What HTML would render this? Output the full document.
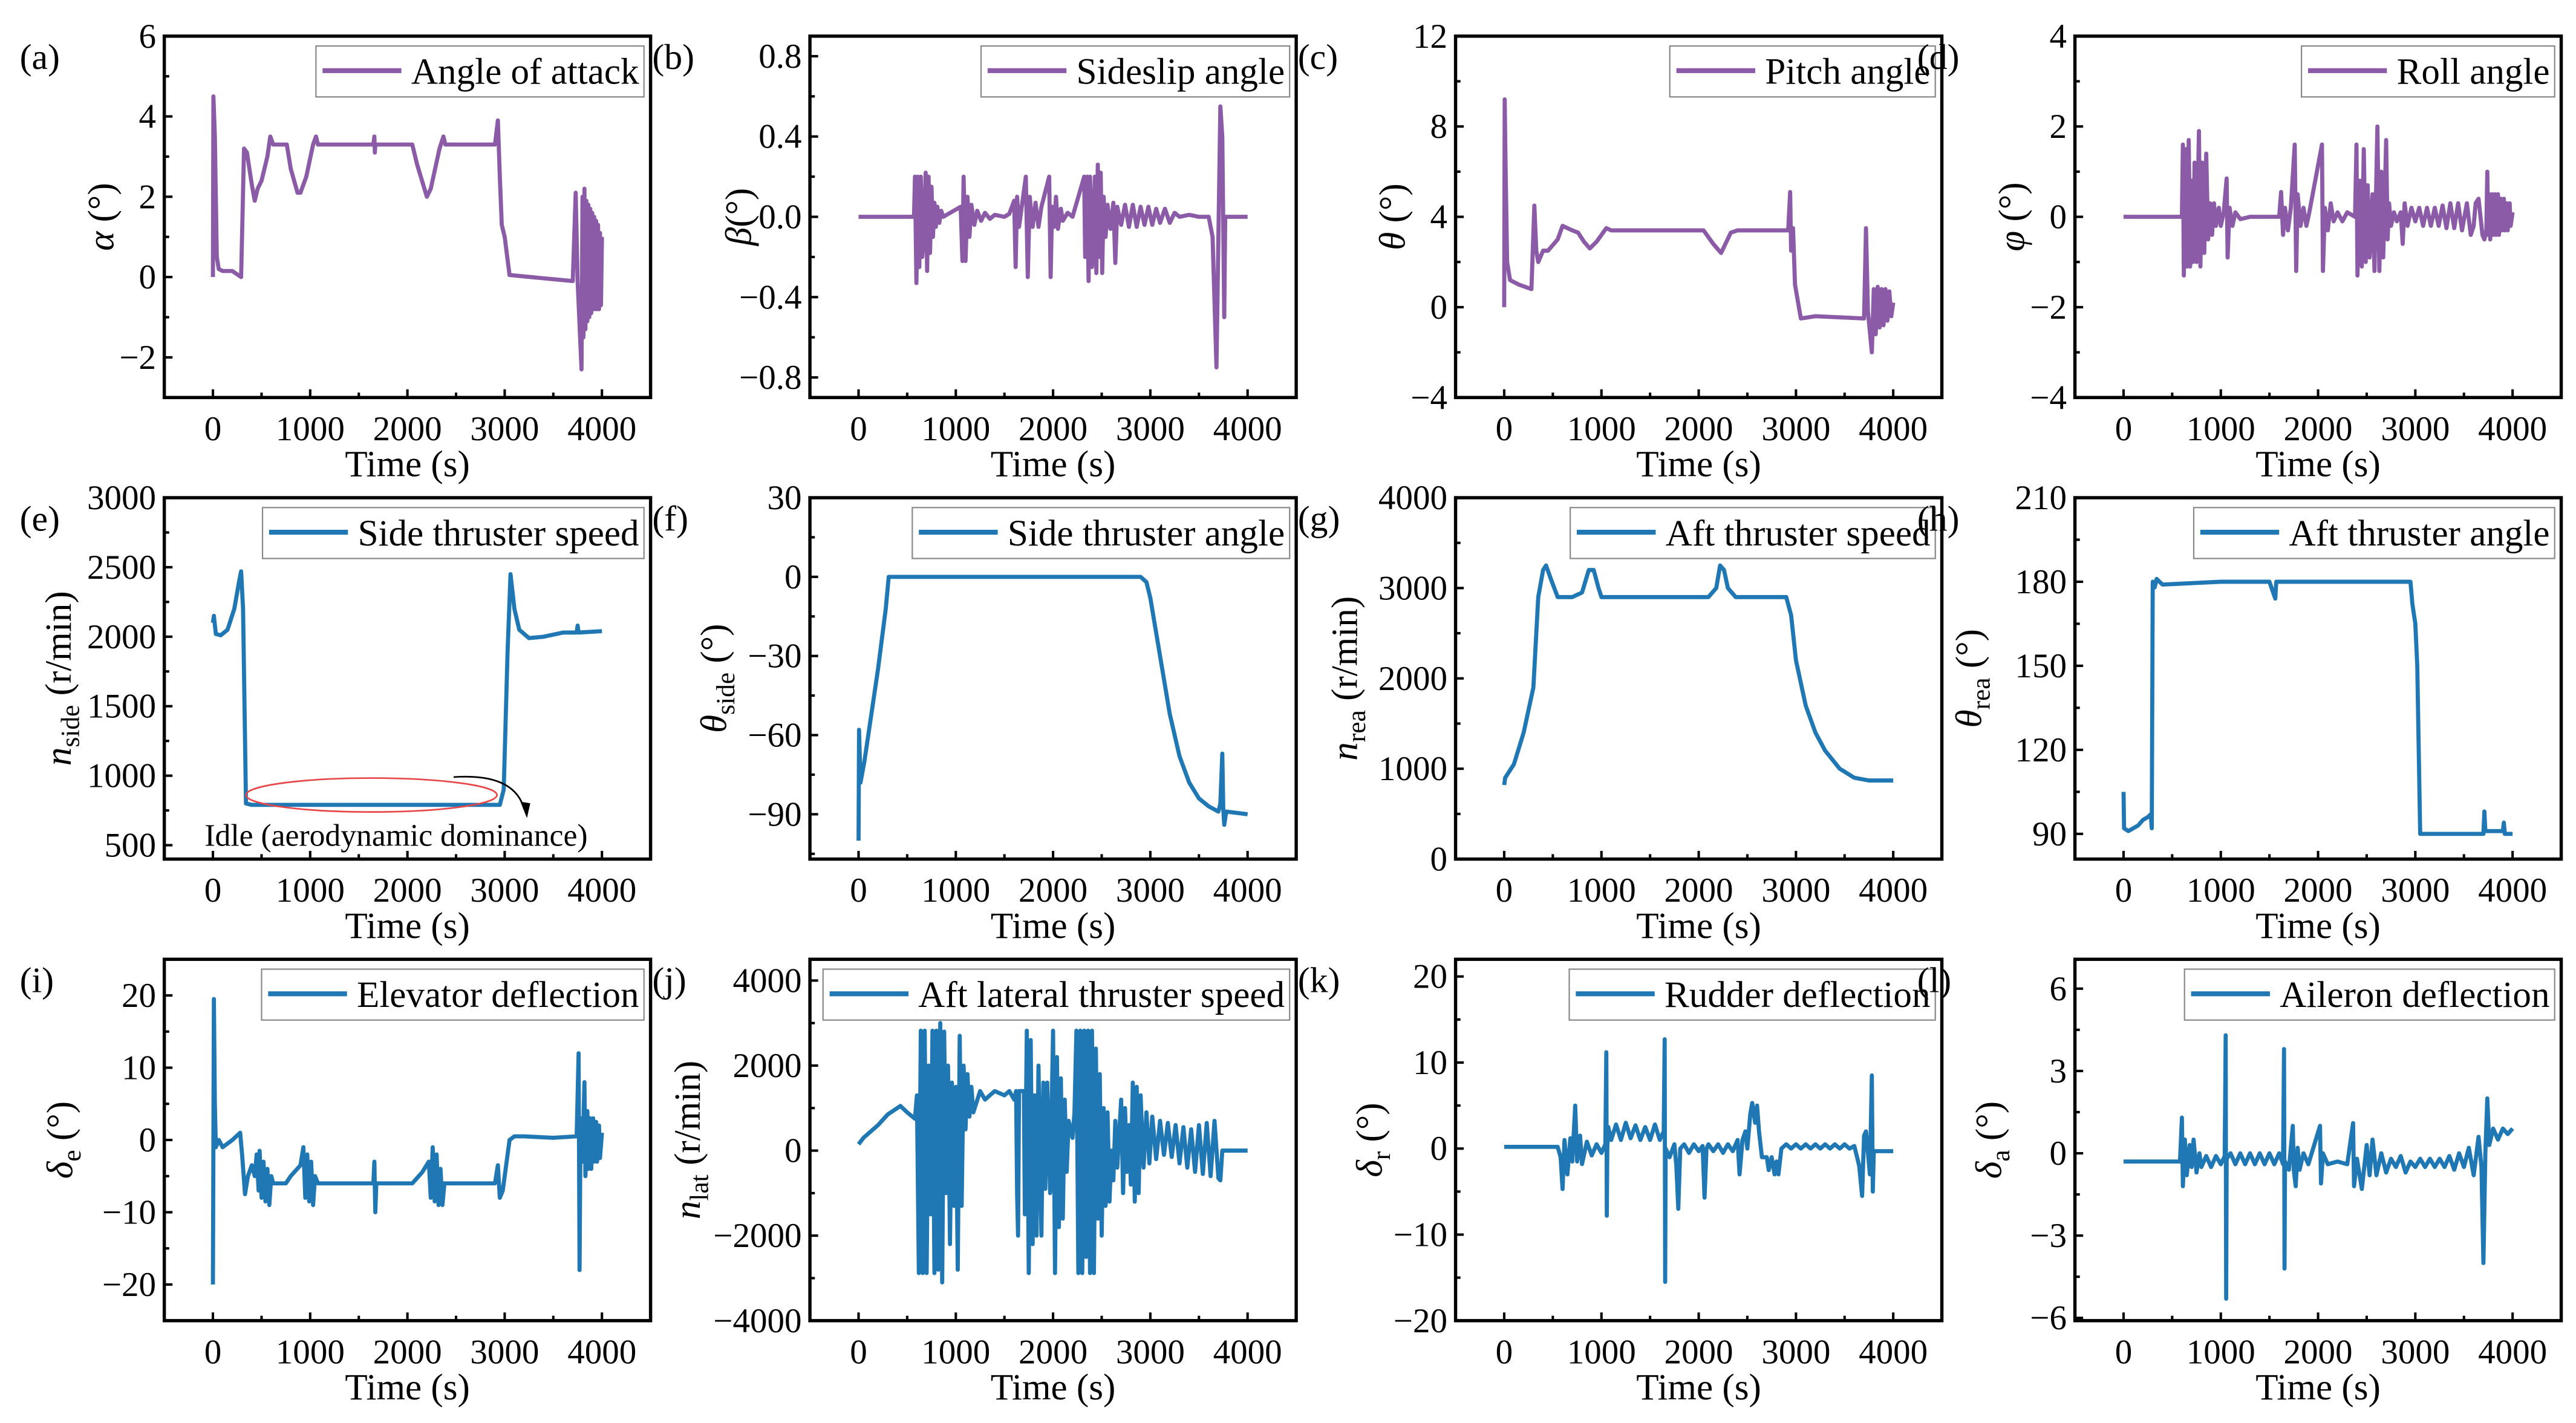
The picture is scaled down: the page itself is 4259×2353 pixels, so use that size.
<!DOCTYPE html>
<html><head><meta charset="utf-8"><style>
html,body{margin:0;padding:0;background:#fff;}
svg{display:block;font-family:"Liberation Serif",serif;}
</style></head><body>
<svg id="fig" xmlns="http://www.w3.org/2000/svg" width="4259" height="2353" viewBox="0 0 1568 866.3" preserveAspectRatio="none"></svg>
<script>
// ---------- data ----------
const alphaT=[0,5,20,40,60,100,200,290,320,350,400,430,460,500,560,590,620,700,760,800,870,900,960,1030,1060,1080,1650,1660,1665,1670,2050,2100,2200,2240,2330,2370,2390,2900,2930,2950,2970,3000,3050,3700,3730,3750,3790,3800,3810,3820,3830,3840,3850,3860,3870,3880,3890,3900,3910,3920,3930,3940,3950,3960,3970,3980,3990,4000];
const alphaV=[0,4.5,3.5,0.5,0.2,0.15,0.15,0,3.2,3.1,2.3,1.9,2.2,2.4,3.0,3.5,3.3,3.3,3.3,2.7,2.1,2.1,2.5,3.3,3.5,3.3,3.3,3.5,3.1,3.3,3.3,2.8,2.0,2.2,3.2,3.5,3.3,3.3,3.9,2.5,1.3,1.0,0.05,-0.1,2.1,-0.1,-2.3,2.0,-1.5,2.2,-1.3,1.9,-1.1,1.8,-1.0,1.7,-0.9,1.6,-0.8,1.5,-0.8,1.4,-0.8,1.3,-0.8,1.1,-0.7,1.0];
const betaT=[0,570,580,595,610,625,640,655,670,690,705,720,735,750,765,780,795,810,830,850,870,1050,1068,1080,1100,1120,1140,1160,1190,1220,1260,1300,1350,1400,1500,1550,1600,1615,1630,1650,1720,1740,1760,1790,1820,1850,1880,1960,1975,1990,2010,2030,2050,2080,2100,2150,2200,2320,2330,2350,2365,2380,2400,2430,2445,2460,2475,2490,2505,2520,2540,2560,2590,2620,2640,2660,2700,2740,2780,2820,2860,2900,2940,2980,3020,3060,3100,3150,3200,3250,3300,3400,3500,3600,3640,3680,3700,3720,3740,3760,3770,4000];
const betaV=[0,0,0.2,-0.33,0.2,-0.25,0.2,-0.2,-0.1,0.22,-0.27,0.2,-0.18,0.15,-0.1,0.07,-0.05,0.05,-0.03,0.03,0,0.05,-0.22,0.2,-0.22,0.1,-0.1,0.06,-0.04,0.03,-0.02,0.02,-0.01,0.01,0,0.015,0.08,-0.25,0.1,-0.05,0.2,-0.3,0.1,-0.05,0.07,-0.05,0.05,0.2,-0.3,0.05,-0.05,0.1,-0.06,0.04,-0.02,0.02,0,0.2,-0.2,0.2,-0.32,0.2,-0.25,0.2,-0.28,0.26,-0.2,0.22,-0.28,0.1,-0.1,0.06,-0.06,0.07,-0.23,0.05,-0.04,0.06,-0.05,0.06,-0.05,0.05,-0.04,0.05,-0.04,0.04,-0.03,0.04,-0.03,0.02,0,0.01,0,0,-0.1,-0.75,-0.1,0.55,0.4,-0.5,0,0];
const thetaT=[0,5,15,30,60,150,280,310,330,350,400,450,550,600,700,760,820,880,950,1050,1100,2050,2150,2230,2330,2400,2920,2940,2950,2970,2990,3050,3200,3700,3720,3740,3780,3800,3820,3840,3860,3880,3900,3920,3940,3960,3980,4000];
const thetaV=[0,9.2,6,2,1.2,1.0,0.8,4.5,2.5,2.0,2.5,2.5,3,3.6,3.4,3.3,2.9,2.6,2.9,3.5,3.4,3.4,2.8,2.4,3.3,3.4,3.4,5.1,2.5,3.5,1.0,-0.5,-0.4,-0.5,3.5,-0.2,-2.0,0.8,-1.2,0.9,-0.9,0.8,-0.8,0.8,-0.6,0.7,-0.4,0.2];
const phiT=[0,600,610,620,640,655,670,685,700,715,730,750,775,790,810,830,850,870,890,910,930,950,980,1000,1030,1060,1070,1090,1120,1150,1200,1300,1600,1620,1640,1660,1690,1720,1760,1775,1790,1820,1850,1880,1910,2040,2050,2070,2100,2130,2160,2200,2250,2300,2380,2395,2405,2430,2450,2470,2490,2510,2530,2560,2580,2610,2630,2650,2670,2700,2715,2730,2750,2780,2810,2850,2870,2890,2920,2960,3000,3040,3080,3120,3160,3200,3240,3280,3320,3360,3400,3440,3480,3530,3570,3600,3620,3650,3690,3710,3730,3740,3750,3760,3770,3790,3800,3820,3830,3850,3860,3880,3890,3910,3920,3940,3950,3970,3980,4000];
const phiV=[0,0,1.6,-1.3,1.5,-1.1,1.7,-1.1,0.8,-1.0,1.2,-1.0,1.9,-1.1,1.2,-0.8,1.4,-0.5,0.3,-0.4,0.3,-0.2,0.2,-0.2,0.1,0.85,-0.9,0.2,-0.2,0.1,-0.05,0,0,0.55,-0.4,0.2,-0.3,0.2,1.6,-1.2,0.5,-0.2,0.2,-0.2,0.1,1.6,-1.2,0.2,-0.3,0.3,-0.1,0.1,-0.1,0.1,0,1.6,-1.3,0.8,-1.1,1.5,-1.0,0.7,-0.9,0.5,-1.2,2.0,-1.2,1.0,-0.9,1.7,-0.5,0.3,-0.2,0.1,-0.1,0.1,-0.6,0.3,-0.2,0.2,-0.1,0.2,-0.2,0.2,-0.2,0.2,-0.2,0.25,-0.25,0.3,-0.25,0.3,-0.3,0.3,-0.4,-0.2,0.3,0.4,-0.4,-0.5,-0.3,1.0,-0.4,0.5,-0.5,0.5,-0.4,0.5,-0.4,0.5,-0.4,0.4,-0.3,0.4,-0.3,0.3,-0.3,0.3,-0.2,0.1];
const nsideT=[0,10,30,80,150,220,270,290,310,340,400,2950,2990,3030,3060,3100,3150,3250,3400,3600,3740,3750,3760,4000];
const nsideV=[2100,2150,2020,2010,2050,2200,2400,2470,2200,800,790,790,900,1900,2450,2200,2050,1990,2000,2030,2030,2080,2030,2040];
const thsideT=[0,5,20,60,100,200,280,310,2900,2960,3000,3100,3200,3300,3400,3500,3600,3700,3720,3740,3750,3760,3780,4000];
const thsideV=[-100,-58,-78,-70,-60,-35,-12,0,0,-2,-8,-30,-52,-68,-78,-84,-87,-89,-86,-67,-88,-94,-89,-90];
const nreaT=[0,10,100,200,300,350,400,430,480,550,700,800,870,920,970,1000,2100,2180,2220,2260,2300,2380,2900,2950,3000,3100,3200,3300,3450,3600,3750,4000];
const nreaV=[820,900,1050,1400,1900,2900,3200,3250,3100,2900,2900,2950,3200,3200,3000,2900,2900,3000,3250,3200,3000,2900,2900,2700,2200,1700,1400,1200,1000,900,870,870];
const threaT=[0,5,50,150,200,250,280,290,300,320,340,400,1000,1500,1560,1570,2900,2950,2970,3000,3020,3050,3700,3710,3720,3900,3910,3920,4000];
const threaV=[105,92,91,93,95,96,97,92,180,178,181,179,180,180,174,180,180,180,172,165,150,90,90,98,91,91,94,90,90];
const deT=[0,10,20,30,60,100,200,280,300,330,360,400,430,450,470,480,500,520,540,560,580,600,620,750,800,900,930,950,970,990,1010,1030,1050,1080,1650,1660,1670,1680,2050,2150,2220,2240,2260,2280,2300,2320,2340,2360,2380,2900,2930,2950,2980,3050,3100,3200,3500,3740,3760,3770,3780,3800,3820,3830,3850,3860,3880,3890,3910,3920,3940,3950,3970,3980,4000];
const deV=[-20,19.5,5,-1,0,-1,0,1,-2,-7.5,-5,-3.5,-5,-2,-7,-1.5,-8,-3,-8.5,-4,-9,-5,-6,-6,-5,-3.5,-1,-8,-2,-8.5,-3,-9,-5,-6,-6,-3,-10,-6,-6,-4.5,-3,-8,-1,-8.5,-2,-9,-4,-9,-6,-6,-3.5,-8,-7,0,0.5,0.5,0.3,0.5,12,-18,3,-3,8,-5,4,-4,3,-4,3,-3,2.5,-3,2,-2.5,1];
const nlatT=[0,50,200,300,430,500,580,600,620,640,660,680,700,720,740,760,780,800,820,840,860,880,900,920,940,960,980,1000,1020,1040,1060,1080,1100,1120,1140,1160,1180,1250,1300,1400,1500,1550,1600,1620,1630,1640,1650,1700,1710,1730,1750,1770,1790,1810,1830,1850,1880,1900,1920,1940,1970,2000,2020,2040,2060,2080,2100,2120,2140,2160,2200,2220,2240,2260,2280,2300,2320,2340,2360,2380,2400,2420,2440,2460,2480,2500,2520,2540,2560,2580,2600,2620,2640,2660,2700,2720,2740,2760,2780,2800,2820,2840,2860,2880,2900,2930,2960,2990,3020,3060,3100,3140,3180,3220,3260,3300,3340,3380,3420,3460,3500,3540,3580,3620,3660,3700,3720,3740,4000];
const nlatV=[150,300,600,850,1050,900,750,1300,-2880,2820,-2880,2820,-2880,2000,-1500,2820,-2880,2820,-2800,3000,-3100,2800,-1000,2000,-2200,1600,-1300,1500,-2800,2700,-1300,2000,500,1800,800,1500,900,1400,1200,1400,1300,1400,1200,1400,-1000,-2000,1400,1400,-1500,2820,-2880,2600,-2200,1300,-2000,2000,-2000,1600,-900,1600,-1000,2820,-2880,2200,-1800,1700,-1600,1200,-500,700,300,900,2820,-2880,2820,-2880,2820,-2500,2820,-2880,2820,-2880,2400,-1600,1800,-2000,1000,-1300,900,-1200,0,-700,700,-400,1200,-1000,1000,-500,600,-800,1600,-1200,1500,-1000,1300,-400,900,-300,800,-200,700,-100,650,-150,600,-300,550,-400,500,-500,600,-550,650,-600,700,-650,-700,0,0];
const drT=[0,550,580,600,620,650,680,700,730,750,780,800,850,900,950,1000,1040,1050,1055,1060,1070,1100,1150,1200,1250,1300,1350,1400,1450,1500,1550,1600,1640,1650,1655,1660,1700,1750,1770,1790,1810,1850,1900,1950,2000,2040,2060,2080,2100,2150,2200,2250,2300,2350,2400,2420,2450,2480,2500,2530,2550,2580,2600,2620,2650,2700,2720,2750,2780,2800,2820,2850,2900,2950,3000,3050,3100,3150,3200,3250,3300,3350,3400,3450,3500,3550,3600,3650,3680,3700,3720,3760,3780,3790,3800,4000];
const drV=[0.2,0.2,-1,-4.7,1,-3,1.2,-1.5,5,-1.5,1.5,-1.8,0.8,-0.8,0.5,-0.5,0.5,11.2,-7.8,0,2.5,1,2.8,1,3,1.2,2.7,1,2.5,1,2.8,1,2,12.7,-15.5,0,-1,0.5,-2,-7,0,0.5,-0.5,0.5,-0.3,0.3,-5.7,0,0.5,-0.3,0.5,-0.5,0.5,-0.3,1,-3,1,2,0,4,5.3,3,5,2,-1,-1,-2.5,-1,-3,-1.5,-3,0,0.5,0,0.5,0,0.5,0,0.5,0,0.5,0,0.5,0,0.5,0,0.3,-2,-5.5,1.5,2,-3,8.5,-5,-0.3,-0.3];
const daT=[0,580,600,610,630,650,680,700,720,750,780,800,850,900,950,1000,1040,1050,1055,1060,1100,1150,1200,1250,1300,1350,1400,1450,1500,1550,1600,1640,1650,1655,1660,1700,1740,1750,1770,1790,1810,1850,1900,2020,2030,2050,2100,2200,2300,2360,2370,2400,2450,2500,2530,2560,2600,2650,2700,2750,2800,2850,2900,2950,3000,3050,3100,3150,3200,3250,3300,3350,3400,3450,3500,3550,3600,3650,3680,3700,3720,3740,3760,3800,3850,3900,3950,4000];
const daV=[-0.3,-0.3,1.3,-1.2,0.5,-0.8,0.3,-0.5,0.5,-0.7,0,-0.5,-0.1,-0.5,-0.1,-0.4,-0.1,4.3,-5.3,-0.2,0,-0.4,0,-0.4,0,-0.4,0,-0.4,0,-0.4,0,-0.4,3.8,-4.2,-0.3,-0.6,1.0,-0.6,-1.2,0.2,-0.6,0,-0.4,1.0,-1.1,0,-0.4,-0.3,-0.4,1.1,-1.2,-0.2,-1.3,0.3,-0.8,0.5,-0.8,0,-0.7,-0.2,-0.5,-0.1,-0.7,-0.3,-0.5,-0.2,-0.5,-0.2,-0.5,-0.2,-0.5,-0.1,-0.6,0,-0.5,0.2,-0.8,0.6,-0.5,-4,0,2,0.3,0.9,0.5,0.9,0.7,0.9];
const xTicks=[0,1000,2000,3000,4000];
// ---------- layout ----------
const NS='http://www.w3.org/2000/svg';
const svg=document.getElementById('fig');
const PURPLE='#8b5ba8', BLUE='#1f77b4';
const colL=[100,493,886,1263], W=296;
const rowT=[22,303,584], H=220;
function el(tag,attrs,parent){const e=document.createElementNS(NS,tag);for(const k in attrs)e.setAttribute(k,attrs[k]);(parent||svg).appendChild(e);return e;}
const panels=[
 {id:'a',c:0,r:0,T:alphaT,V:alphaV,y0:-3,y1:6,ticks:[-2,0,2,4,6],labels:['\u22122','0','2','4','6'],minor:[-3,-1,1,3,5],col:PURPLE,leg:'Angle of attack',ytitle:[['α','i'],[' (°)','']],tx:38},
 {id:'b',c:1,r:0,T:betaT,V:betaV,y0:-0.9,y1:0.9,ticks:[-0.8,-0.4,0,0.4,0.8],labels:['\u22120.8','\u22120.4','0.0','0.4','0.8'],minor:[-0.6,-0.2,0.2,0.6],col:PURPLE,leg:'Sideslip angle',ytitle:[['β','i'],['(°)','']],tx:43},
 {id:'c',c:2,r:0,T:thetaT,V:thetaV,y0:-4,y1:12,ticks:[-4,0,4,8,12],labels:['\u22124','0','4','8','12'],minor:[-2,2,6,10],col:PURPLE,leg:'Pitch angle',ytitle:[['θ','i'],[' (°)','']],tx:38},
 {id:'d',c:3,r:0,T:phiT,V:phiV,y0:-4,y1:4,ticks:[-4,-2,0,2,4],labels:['\u22124','\u22122','0','2','4'],minor:[-3,-1,1,3],col:PURPLE,leg:'Roll angle',ytitle:[['φ','i'],[' (°)','']],tx:38},
 {id:'e',c:0,r:1,T:nsideT,V:nsideV,y0:400,y1:3000,ticks:[500,1000,1500,2000,2500,3000],labels:['500','1000','1500','2000','2500','3000'],minor:[750,1250,1750,2250,2750],col:BLUE,leg:'Side thruster speed',ytitle:[['n','i'],['side','s'],[' (r/min)','']],tx:64},
 {id:'f',c:1,r:1,T:thsideT,V:thsideV,y0:-107,y1:30,ticks:[-90,-60,-30,0,30],labels:['\u221290','\u221260','\u221230','0','30'],minor:[-105,-75,-45,-15,15],col:BLUE,leg:'Side thruster angle',ytitle:[['θ','i'],['side','s'],[' (°)','']],tx:58},
 {id:'g',c:2,r:1,T:nreaT,V:nreaV,y0:0,y1:4000,ticks:[0,1000,2000,3000,4000],labels:['0','1000','2000','3000','4000'],minor:[500,1500,2500,3500],col:BLUE,leg:'Aft thruster speed',ytitle:[['n','i'],['rea','s'],[' (r/min)','']],tx:67},
 {id:'h',c:3,r:1,T:threaT,V:threaV,y0:81,y1:210,ticks:[90,120,150,180,210],labels:['90','120','150','180','210'],minor:[105,135,165,195],col:BLUE,leg:'Aft thruster angle',ytitle:[['θ','i'],['rea','s'],[' (°)','']],tx:64},
 {id:'i',c:0,r:2,T:deT,V:deV,y0:-25,y1:25,ticks:[-20,-10,0,10,20],labels:['\u221220','\u221210','0','10','20'],minor:[-15,-5,5,15],col:BLUE,leg:'Elevator deflection',ytitle:[['δ','i'],['e','s'],[' (°)','']],tx:63},
 {id:'j',c:1,r:2,T:nlatT,V:nlatV,y0:-4000,y1:4500,ticks:[-4000,-2000,0,2000,4000],labels:['\u22124000','\u22122000','0','2000','4000'],minor:[-3000,-1000,1000,3000],col:BLUE,leg:'Aft lateral thruster speed',ytitle:[['n','i'],['lat','s'],[' (r/min)','']],tx:74},
 {id:'k',c:2,r:2,T:drT,V:drV,y0:-20,y1:22,ticks:[-20,-10,0,10,20],labels:['\u221220','\u221210','0','10','20'],minor:[-15,-5,5,15],col:BLUE,leg:'Rudder deflection',ytitle:[['δ','i'],['r','s'],[' (°)','']],tx:52},
 {id:'l',c:3,r:2,T:daT,V:daV,y0:-6.1,y1:7.07,ticks:[-6,-3,0,3,6],labels:['\u22126','\u22123','0','3','6'],minor:[-4.5,-1.5,1.5,4.5],col:BLUE,leg:'Aileron deflection',ytitle:[['δ','i'],['a','s'],[' (°)','']],tx:52},
];
panels.forEach(p=>{
  const L=colL[p.c], T=rowT[p.r], B=T+H, R=L+W;
  const g=el('g',{});
  
  
  const X=t=>L+(t+500)/5000*W;
  const Y=v=>B-(v-p.y0)/(p.y1-p.y0)*H;
  const cp=el('clipPath',{id:'clip'+p.id},g); el('rect',{x:L,y:T,width:W,height:H},cp);
  let d='';
  for(let i=0;i<p.T.length;i++){d+=(i?'L':'M')+X(p.T[i]).toFixed(2)+' '+Y(p.V[i]).toFixed(2);}
  const line=el('path',{d:d,fill:'none',stroke:p.col,'stroke-width':2.5,'stroke-linejoin':'round','clip-path':'url(#clip'+p.id+')'},g);
  
  
  const fr=el('rect',{x:L,y:T,width:W,height:H,fill:'none',stroke:'#000','stroke-width':2},g);
  
  
  xTicks.forEach(t=>{
    el('line',{x1:X(t),x2:X(t),y1:B,y2:B-5,stroke:'#000','stroke-width':1.5},g);
    const tl=el('text',{x:X(t),y:B+26,'font-size':21,'text-anchor':'middle'},g);
    tl.textContent=String(t);
    
    
  });
  [500,1500,2500,3500].forEach(t=>el('line',{x1:X(t),x2:X(t),y1:B,y2:B-3,stroke:'#000','stroke-width':1.5},g));
  p.ticks.forEach((v,i)=>{
    el('line',{x1:L,x2:L+5,y1:Y(v),y2:Y(v),stroke:'#000','stroke-width':1.5},g);
    const tl=el('text',{x:L-5,y:Y(v)+7,'font-size':21,'text-anchor':'end'},g);
    tl.textContent=p.labels[i];
    
    
  });
  p.minor.forEach(v=>{ if(v>=p.y0&&v<=p.y1) el('line',{x1:L,x2:L+3,y1:Y(v),y2:Y(v),stroke:'#000','stroke-width':1.5},g);});
  const xt=el('text',{x:(L+R)/2,y:B+48,'font-size':22.5,'text-anchor':'middle'},g);
  xt.textContent='Time (s)';
  
  
  const cy=(T+B)/2, cx=L-p.tx;
  const yt=el('text',{x:0,y:0,'font-size':22.5,'text-anchor':'middle',transform:`translate(${cx+7},${cy}) rotate(-90)`},g);
  
  
  p.ytitle.forEach(([s,k])=>{
    const ts=el('tspan',{},yt); ts.textContent=s;
    if(k==='i') ts.setAttribute('font-style','italic');
    if(k==='s'){ts.setAttribute('font-size',16);ts.setAttribute('dy',5);}
    else if(yt.childNodes.length>1 && p.ytitle.some(q=>q[1]==='s')) ts.setAttribute('dy',-5);
  });
  const pl=el('text',{x:L-88-(p.c>0?8:0),y:T+20,'font-size':22},g);
  pl.textContent='('+p.id+')';
  
  
  const lg=el('g',{},g);
  
  
  const lt=el('text',{x:R-7,y:T+29,'font-size':22.5,'text-anchor':'end'},lg);
  lt.textContent=p.leg;
  let tw=lt.getComputedTextLength();
  const lx=R-7-tw-6;
  el('line',{x1:lx-48,x2:lx,y1:T+21,y2:T+21,stroke:p.col,'stroke-width':3},lg);
  el('rect',{x:lx-52,y:T+6,width:R-4-(lx-52),height:31,fill:'none',stroke:'#888','stroke-width':0.8},lg);
  if(p.id==='e'){
    const ell=el('ellipse',{cx:X(1630),cy:Y(861),rx:1290/5000*W,ry:(Y(739)-Y(983))/2,fill:'none',stroke:'#e8474a','stroke-width':1},g);
    
    
    const ar=el('path',{d:`M${X(2475)} ${Y(990)} Q${X(3100)} ${Y(1020)} ${X(3200)} ${Y(760)}`,fill:'none',stroke:'#000','stroke-width':1},g);
    
    
    el('path',{d:`M${X(3229)} ${Y(695)} l-4 -10 l6 1 z`,fill:'#000'},g);
    const an=el('text',{x:X(1884),y:Y(543)+4,'font-size':19,'text-anchor':'middle'},g);
    an.textContent='Idle (aerodynamic dominance)';
    
    
  }
});
</script>
</body></html>
